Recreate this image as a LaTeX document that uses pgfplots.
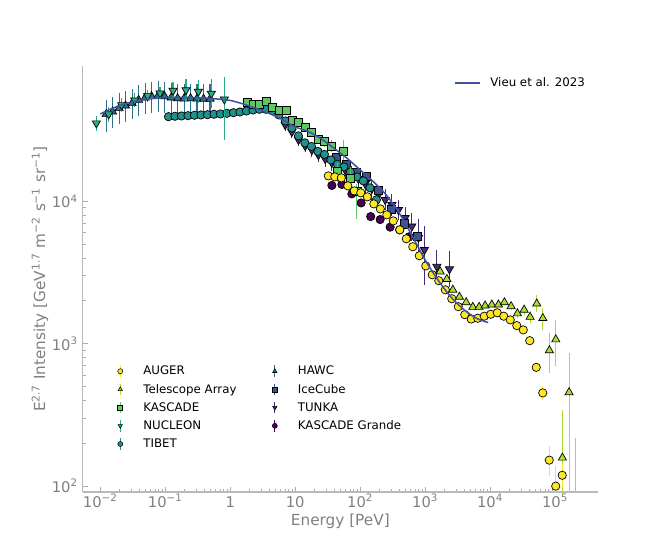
\documentclass[border=0pt]{standalone}
\usepackage{fontspec}
\setmainfont{DejaVu Sans}
\usepackage{pgfplots}
\pgfplotsset{compat=1.18}
\definecolor{cAUG}{RGB}{253,231,37}
\definecolor{cTA}{RGB}{173,220,48}
\definecolor{cKAS}{RGB}{94,201,98}
\definecolor{cNUC}{RGB}{40,174,128}
\definecolor{cTIB}{RGB}{33,145,140}
\definecolor{cHAWC}{RGB}{44,114,142}
\definecolor{cICE}{RGB}{59,82,139}
\definecolor{cTUN}{RGB}{71,44,122}
\definecolor{cKG}{RGB}{68,1,84}
\definecolor{cVieu}{RGB}{64,83,163}
\definecolor{tickgray}{RGB}{128,128,128}
\pgfplotsset{
  errs/.style={error bars/.cd, y dir=both, y explicit, error mark=none, error bar style={line width=0.8pt}},
}
\begin{document}
\begin{tikzpicture}
\useasboundingbox (0,0) rectangle (478.08pt,398.88pt);
\begin{axis}[
  at={(59.54pt,44.64pt)}, anchor=south west,
  scale only axis, width=371pt, height=306.7pt,
  xmode=log, ymode=log,
  xmin=0.00537, xmax=457000,
  ymin=90.8, ymax=89300,
  axis x line*=bottom, axis y line*=left,
  axis line style={draw=gray!55, line width=1pt},
  tick align=inside,
  major tick length=3.8pt, minor tick length=2.2pt,
  tick style={draw=gray!65, line width=0.7pt},
  xtick={0.01,0.1,1,10,100,1000,10000,100000},
  xticklabels={10\textsuperscript{−2},10\textsuperscript{−1},1,10,10\textsuperscript{2},10\textsuperscript{3},10\textsuperscript{4},10\textsuperscript{5}},
  ytick={100,1000,10000},
  yticklabels={10\textsuperscript{2},10\textsuperscript{3},10\textsuperscript{4}},
  ticklabel style={font=\fontsize{10.6}{12}\selectfont, text=tickgray},
  xticklabel style={inner sep=1.5pt, text height=9.2pt, text depth=0pt},
  xlabel={Energy [PeV]},
  ylabel={E\textsuperscript{2.7} Intensity [GeV\textsuperscript{1.7} m\textsuperscript{−2} s\textsuperscript{−1} sr\textsuperscript{−1}]},
  label style={font=\fontsize{11}{13}\selectfont, text=tickgray},
  xlabel style={at={(axis description cs:0.5,-0.0697)}, anchor=center},
  ylabel style={at={(axis description cs:-0.083,0.5)}, anchor=center},
  clip marker paths=true,
  legend columns=2,
  legend cell align=left,
  legend image code/.code={%
    \draw[#1, mark=none, line width=0.8pt] (0pt,-3.7pt) -- (0pt,4.7pt);
    \draw[#1, only marks] plot coordinates {(0pt,0.5pt)};
    \path[draw=none, fill=none] (-6pt,0pt) -- (14.6pt,0pt);
  },
  legend style={at={(axis description cs:0.0562,0.3026)}, anchor=north west,
    draw=none, fill=none, inner sep=0pt,
    font=\fontsize{8.5}{10}\selectfont, row sep=0.8pt,
    nodes={inner sep=2pt, text height=6.3pt, text depth=2pt},
    /tikz/every even column/.append style={column sep=19.6pt}},
]
% KASCADE Grande
\addplot[forget plot, only marks, color=cKG, mark=*, mark size=3pt,
  mark options={fill=cKG, draw=black, line width=0.5pt}]
  table[x=x, y=y] {
x y
36.71 12940
52.27 13150
74.5 11290
103.5 9750
145.2 7820
203.2 7450
289.4 6590
405.5 6310
567.5 5640
};
% TUNKA
\addplot[forget plot, only marks, color=cTUN, mark=triangle*, mark size=3.4pt,
  mark options={fill=cTUN, draw=black, line width=0.5pt, rotate=180}, errs]
  table[x=x, y=y, y error plus=ep, y error minus=em] {
x y ep em
7.02 34440 3000 3000
8.89 30760 2800 2800
11.25 27040 2600 2600
14.26 24490 2400 2400
18.07 22960 2300 2300
22.81 21180 2300 2300
28.96 19860 2300 2300
36.71 18620 2300 2300
46.35 17740 2300 2300
58.76 16630 2200 2200
74.5 15600 2100 2100
94.2 14390 2100 2100
119.4 13270 2000 2000
151.4 12250 2000 2000
191.4 11120 1700 1500
242.7 10250 1900 1600
307.6 9440 1800 1500
388.2 8710 1500 1300
492.0 7660 1400 1200
623.7 6680 1600 1430
788.8 5550 2000 1600
975 4570 2100 2000
1514 3480 1040 800
2366 3340 1140 840
};
% IceCube
\addplot[forget plot, only marks, color=cICE, mark=square*, mark size=2.9pt,
  mark options={fill=cICE, draw=black, line width=0.5pt}]
  table[x=x, y=y] {
x y
42.75 20510
60.95 18320
86.8 16110
123.6 14960
192.8 11940
305.5 8850
484.2 6950
767.4 5680
};
% HAWC
\addplot[forget plot, only marks, color=cHAWC, mark=triangle*, mark size=3.4pt,
  mark options={fill=cHAWC, draw=black, line width=0.5pt}, errs]
  table[x=x, y=y, y error plus=ep, y error minus=em] {
x y ep em
0.01230 40930 10600 10000
0.01549 42660 11500 9800
0.01950 45080 12200 10400
0.02455 46990 12700 10800
0.03090 48870 13200 11200
0.03890 51520 13900 11800
0.04898 53460 14400 12300
0.06166 54700 14800 12600
0.07762 55210 14900 12700
0.09772 54700 14800 12600
0.1230 53460 14400 12300
0.1549 52970 14300 12200
0.1950 52720 14200 12100
0.2455 52970 14300 12200
0.3090 52720 14200 12100
0.3890 52480 14200 12100
0.4898 52480 14200 12100
};
% TIBET
\addplot[forget plot, only marks, color=cTIB, mark=*, mark size=3pt,
  mark options={fill=cTIB, draw=black, line width=0.5pt}]
  table[x=x, y=y] {
x y
0.1122 39360
0.1413 39630
0.1778 39810
0.2239 39990
0.2818 40270
0.3548 40460
0.4467 40640
0.5623 40930
0.7079 41110
0.8913 41590
1.122 41980
1.413 42460
1.778 43150
2.239 43850
2.818 44360
3.548 44360
4.467 43550
5.623 40460
7.079 36730
8.913 32810
11.22 28840
14.13 25760
17.78 24320
22.39 22440
28.18 21380
35.48 19540
44.67 18200
56.23 17460
70.79 16110
89.13 14860
112.2 13930
141.3 12450
177.8 10250
};
% NUCLEON
\addplot[forget plot, only marks, color=cNUC, mark=triangle*, mark size=3.4pt,
  mark options={fill=cNUC, draw=black, line width=0.5pt, rotate=180}, errs]
  table[x=x, y=y, y error plus=ep, y error minus=em] {
x y ep em
0.00871 35400 4200 4000
0.01349 40930 5300 4800
0.02138 47530 5700 5200
0.0339 51290 6200 5600
0.0537 55210 5500 5000
0.08318 57410 5700 5200
0.1318 59980 9000 8000
0.2089 60530 12000 10000
0.3236 59020 12000 10000
0.5129 57150 15400 12000
0.8128 52120 22400 25000
};
% KASCADE
\addplot[forget plot, only marks, color=cKAS, mark=square*, mark size=2.9pt,
  mark options={fill=cKAS, draw=black, line width=0.5pt}, errs]
  table[x=x, y=y, y error plus=ep, y error minus=em] {
x y ep em
1.807 49320 2500 2500
2.259 48310 2400 2400
2.825 48310 2400 2400
3.581 50700 2500 2500
4.508 45810 2300 2300
5.675 43360 2200 2200
7.194 43360 2200 2200
8.995 37330 1900 1900
11.25 35730 1800 1800
14.26 33190 1700 1700
17.95 30410 1800 1800
22.59 27290 1900 1900
28.44 26300 2100 2100
35.81 24490 2400 2400
45.08 16180 2400 2400
55.34 22340 4700 2800
70.15 14560 3000 3000
88.9 11720 1500 4200
};
% Telescope Array
\addplot[forget plot, only marks, color=cTA, mark=triangle*, mark size=3.4pt,
  mark options={fill=cTA, draw=black, line width=0.5pt}, errs]
  table[x=x, y=y, y error plus=ep, y error minus=em] {
x y ep em
1702 3210 100 100
2158 2840 90 90
2667 2390 80 80
3373 2130 70 70
4276 1950 60 60
5420 1810 60 60
6773 1810 60 60
8375 1850 60 60
10620 1880 70 70
13430 1880 80 80
16600 1950 90 90
21040 1830 100 100
26300 1630 110 110
33340 1730 130 130
41250 1540 150 150
52240 1910 290 230
64710 1510 270 270
81660 897 300 270
102500 1070 400 370
129500 158 185 150
164100 455 400 440
206500 60 159 55
};
% AUGER
\addplot[forget plot, only marks, color=cAUG, mark=*, mark size=3pt,
  mark options={fill=cAUG, draw=black, line width=0.5pt}, errs]
  table[x=x, y=y, y error plus=ep, y error minus=em] {
x y ep em
32.36 15100 0 0
40.74 14860 0 0
51.29 14620 0 0
64.57 12850 0 0
81.28 11850 0 0
102.3 11480 0 0
128.8 10760 0 0
162.2 9600 0 0
204.2 8850 0 0
257.0 8040 0 0
323.6 7290 0 0
407.4 6310 0 0
512.9 5460 0 0
645.7 4800 0 0
812.8 4150 0 0
1023 3520 0 0
1288 3050 0 0
1622 2770 0 0
2042 2390 0 0
2570 2070 0 0
3236 1820 0 0
4074 1600 0 0
5129 1490 0 0
6457 1510 0 0
8128 1560 0 0
10230 1610 0 0
12880 1650 0 0
16220 1560 0 0
20420 1470 0 0
25700 1340 0 0
32360 1250 20 20
40740 1050 30 30
51290 682 30 30
64570 451 54 50
81280 152 38 35
102300 99.8 38 10
128800 119 24 20
};
% Vieu et al. 2023
\addplot[forget plot, no marks, color=cVieu, line width=1.1pt, smooth]
  table[x=x, y=y] {
x y
0.01 41110
0.01585 45290
0.02512 48750
0.03981 51170
0.0631 52840
0.1 53700
0.1585 53830
0.2512 53700
0.3981 53210
0.631 52360
1 51170
1.585 48310
2.512 44980
3.981 41500
6.31 37580
10 33340
15.85 30970
25.12 27480
39.81 23550
63.1 20040
100 16630
158.5 13800
251.2 11110
398.1 8300
631 5730
1000 3880
1585 2790
2512 2120
3981 1730
6310 1500
9333 1410
};
\addlegendimage{color=cAUG, mark=*, mark options={fill=cAUG, draw=black, line width=0.4pt, scale=0.9}}
\addlegendentry{AUGER}
\addlegendimage{color=cHAWC, mark=triangle*, mark options={fill=cHAWC, draw=black, line width=0.4pt, scale=0.9}}
\addlegendentry{HAWC}
\addlegendimage{color=cTA, mark=triangle*, mark options={fill=cTA, draw=black, line width=0.4pt, scale=0.9}}
\addlegendentry{Telescope Array}
\addlegendimage{color=cICE, mark=square*, mark options={fill=cICE, draw=black, line width=0.4pt, scale=0.9}}
\addlegendentry{IceCube}
\addlegendimage{color=cKAS, mark=square*, mark options={fill=cKAS, draw=black, line width=0.4pt, scale=0.9}}
\addlegendentry{KASCADE}
\addlegendimage{color=cTUN, mark=triangle*, mark options={fill=cTUN, draw=black, line width=0.4pt, scale=0.9, rotate=180}}
\addlegendentry{TUNKA}
\addlegendimage{color=cNUC, mark=triangle*, mark options={fill=cNUC, draw=black, line width=0.4pt, scale=0.9, rotate=180}}
\addlegendentry{NUCLEON}
\addlegendimage{color=cKG, mark=*, mark options={fill=cKG, draw=black, line width=0.4pt, scale=0.9}}
\addlegendentry{KASCADE Grande}
\addlegendimage{color=cTIB, mark=*, mark options={fill=cTIB, draw=black, line width=0.4pt, scale=0.9}}
\addlegendentry{TIBET}
\end{axis}
\begin{axis}[
  at={(59.54pt,44.64pt)}, anchor=south west,
  scale only axis, width=371pt, height=306.7pt,
  hide axis, xmin=0, xmax=1, ymin=0, ymax=1,
  legend cell align=left,
  legend style={at={(axis description cs:0.7206,0.9787)}, anchor=north west,
    draw=none, fill=none, inner sep=0pt,
    font=\fontsize{8.5}{10}\selectfont,
    nodes={inner sep=2pt, text height=6.3pt, text depth=2pt}},
  legend image code/.code={\draw[#1, draw=cVieu, line width=1.2pt] (0pt,0.5pt) -- (18.2pt,0.5pt); \path[draw=none, fill=none] (0pt,0pt) -- (23.4pt,0pt);},
]
\addlegendimage{color=cVieu, line width=1.2pt}
\addlegendentry{Vieu et al. 2023}
\end{axis}
\end{tikzpicture}
\end{document}
